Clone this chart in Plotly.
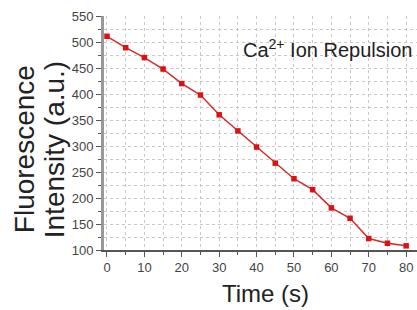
import plotly.graph_objects as go

time_s = [0, 5, 10, 15, 20, 25, 30, 35, 40, 45, 50, 55, 60, 65, 70, 75, 80]
intensity = [511, 489, 470, 448, 420, 398, 360, 329, 298, 267, 237, 216, 181, 161, 122, 113, 108]
x_ticks = [0, 10, 20, 30, 40, 50, 60, 70, 80]
y_ticks = [100, 150, 200, 250, 300, 350, 400, 450, 500, 550]

fig = go.Figure()
fig.add_trace(go.Scatter(
    x=time_s, y=intensity, mode="lines+markers",
    line=dict(color="#d42a2a", width=1.5),
    marker=dict(symbol="square", size=5.5, color="#e01010"),
    showlegend=False,
))

grid = dict(showgrid=True, gridcolor="#c8c8c8", griddash="dot", gridwidth=1)
fig.update_xaxes(
    range=[-0.8, 82.9], tickvals=x_ticks, ticks="outside", ticklen=5, tickcolor="#555",
    minor=dict(dtick=5, ticks="outside", ticklen=3, tickcolor="#555", showgrid=True,
               gridcolor="#c8c8c8", griddash="dot"),
    showline=True, linecolor="#555", linewidth=1.5, zeroline=False,
    tickfont=dict(size=13, color="#444"),
    **grid,
)
fig.update_yaxes(
    range=[100, 550], tickvals=y_ticks, ticks="outside", ticklen=5, tickcolor="#555",
    minor=dict(dtick=25, ticks="outside", ticklen=3, tickcolor="#555", showgrid=True,
               gridcolor="#c8c8c8", griddash="dot"),
    showline=True, linecolor="#999", linewidth=3, zeroline=False,
    tickfont=dict(size=13, color="#444"),
    **grid,
)
# axis titles
fig.add_annotation(x=0.516, y=-0.184, xref="paper", yref="paper",
                   xanchor="center", yanchor="middle", text="Time (s)", showarrow=False,
                   font=dict(size=24, color="#222"))
fig.add_annotation(x=-0.253, y=0.43, xref="paper", yref="paper",
                   xanchor="center", yanchor="middle", text="Fluorescence", textangle=-90,
                   showarrow=False, font=dict(size=28, color="#222"))
fig.add_annotation(x=-0.157, y=0.43, xref="paper", yref="paper",
                   xanchor="center", yanchor="middle", text="Intensity (a.u.)", textangle=-90,
                   showarrow=False, font=dict(size=28, color="#222"))
fig.add_annotation(
    x=1, y=0.863, xref="paper", yref="paper", xanchor="right", yanchor="middle",
    text="Ca<sup>2+</sup> Ion Repulsion", showarrow=False,
    font=dict(size=20, color="#222"), xshift=-3,
)
fig.update_layout(
    width=417, height=310,
    margin=dict(l=104, r=0, t=16, b=60),
    paper_bgcolor="white", plot_bgcolor="white",
    font=dict(family="Liberation Sans, Arial, sans-serif"),
)
fig.write_html("out.html", config={"displayModeBar": False},
               post_script="document.body.style.margin='0';")
